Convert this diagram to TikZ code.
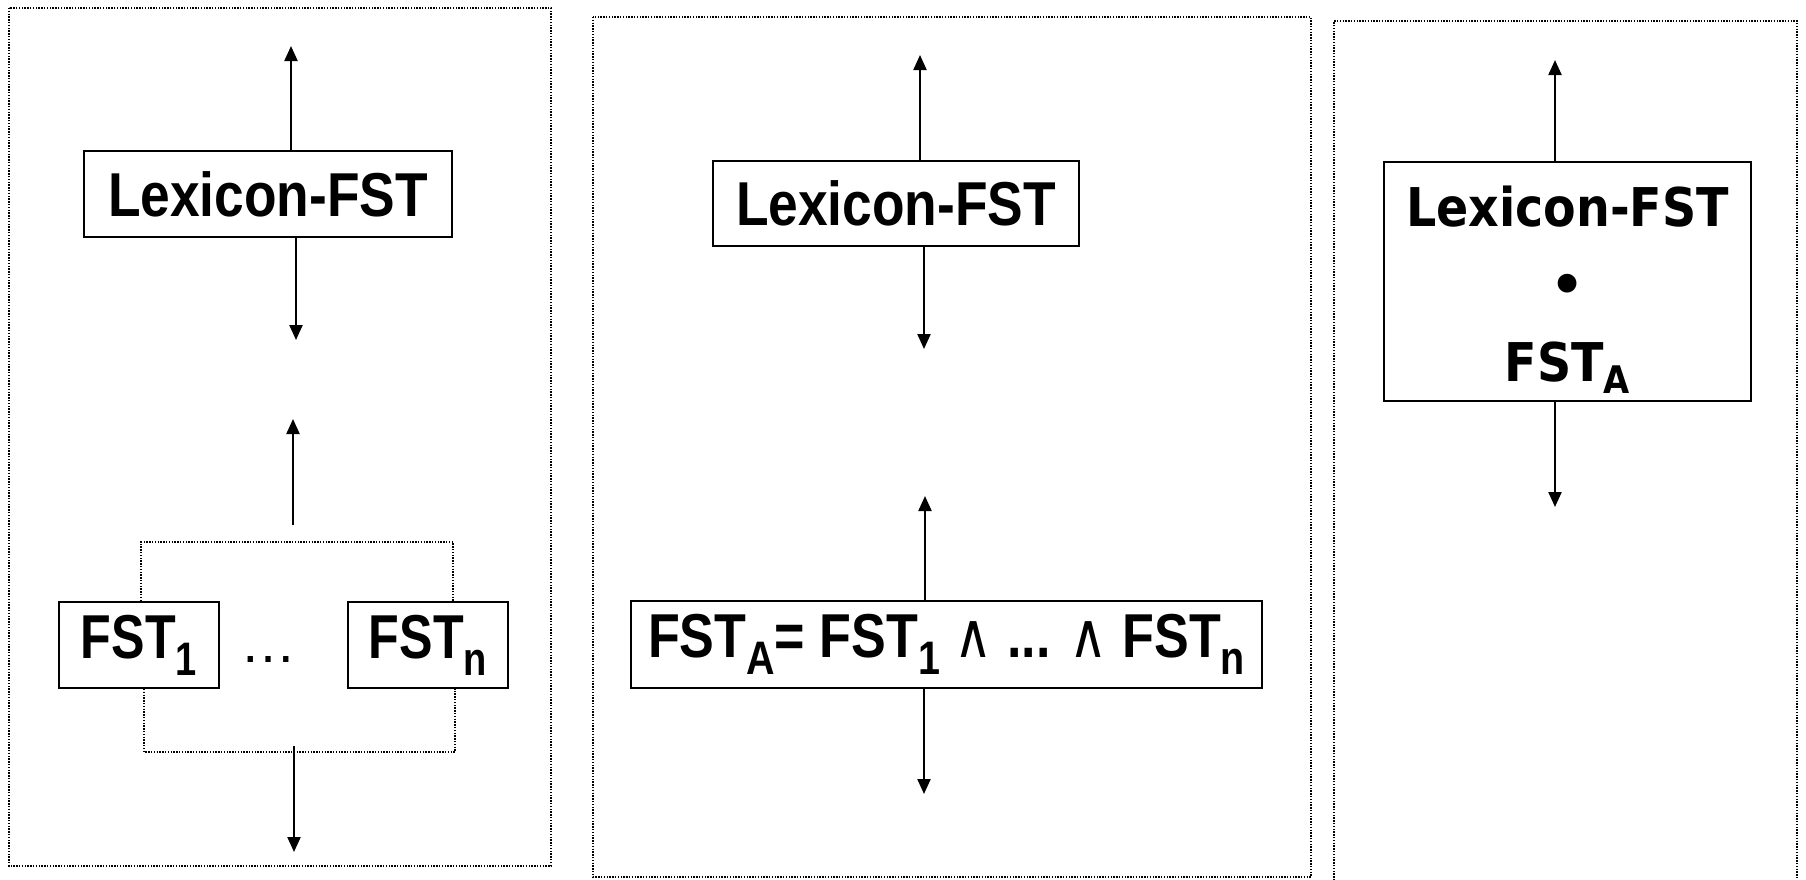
\documentclass[tikz,border=0pt]{standalone}
\usepackage{fontspec}
\setmainfont{Liberation Sans}
\newfontfamily\wfont{DejaVu Sans}
\usetikzlibrary{arrows.meta}
\newcommand\lowidx[1]{\raisebox{-8.5pt}{\fontsize{23.5}{23.5}\selectfont #1}}
\newcommand\lowidxw[1]{\raisebox{-6pt}{\fontsize{19}{19}\selectfont #1}}
\begin{document}
\begin{tikzpicture}[x=0.5pt,y=-0.5pt,
  panel/.style={draw, line width=0.7pt, dash pattern=on 0.7pt off 0.7pt},
  bracket/.style={draw, line width=0.7pt, dash pattern=on 0.7pt off 0.7pt},
  box/.style={draw, line width=1pt, inner sep=0pt, font=\fontsize{31}{31}\selectfont\bfseries},
  arr/.style={line width=1.1pt, -{Triangle[length=7.5pt,width=6.5pt]}}]
\useasboundingbox (0,0) rectangle (1806,879);
% panels
\draw[panel] (9,8) rectangle (551,866);
\draw[panel] (593,17) rectangle (1311,877);
\draw[panel] (1334,900) -- (1334,21) -- (1797,21) -- (1797,900);
% panel 1
\node[box, minimum width=184pt, minimum height=43pt] (lex1) at (268,194) {\scalebox{0.86}[1]{Lexicon-FST}};
\node[box, minimum width=80pt, minimum height=43pt] (fst1) at (139,645) {\scalebox{0.81}[1]{FST\lowidx{1}}};
\node[box, minimum width=80pt, minimum height=43pt] (fstn) at (428,645) {\scalebox{0.81}[1]{FST\lowidx{n}}};
\node[font=\fontsize{28}{28}\selectfont, inner sep=0pt] (dots) at (268,659) {\dots};
\coordinate (u1) at (291,46);
\draw[arr] (lex1.north -| u1) -- (u1);
\coordinate (d1) at (296,340);
\draw[arr] (lex1.south -| d1) -- (d1);
\coordinate (s2) at (293,525);
\coordinate (u2) at (293,419);
\draw[arr] (s2) -- (u2);
\coordinate (tl) at (141,542);
\coordinate (tr) at (453,542);
\draw[bracket] (fst1.north -| tl) -- (tl) -- (tr) -- (fstn.north -| tr);
\coordinate (bl) at (144,752);
\coordinate (br) at (455,752);
\draw[bracket] (fst1.south -| bl) -- (bl) -- (br) -- (fstn.south -| br);
\coordinate (s3) at (294,746);
\coordinate (d3) at (294,852);
\draw[arr] (s3) -- (d3);
% panel 2
\node[box, minimum width=183pt, minimum height=42.5pt] (lex2) at (896,203.5) {\scalebox{0.86}[1]{Lexicon-FST}};
\node[box, minimum width=315.5pt, minimum height=43.5pt] (fsta) at (946.5,644.5)
  {\scalebox{0.84}[1]{FST\lowidx{A}= FST\lowidx{1} {\wfont\mdseries ∧} ... {\wfont\mdseries ∧} FST\lowidx{n}}};
\coordinate (u4) at (920,55);
\draw[arr] (lex2.north -| u4) -- (u4);
\coordinate (d4) at (924,349);
\draw[arr] (lex2.south -| d4) -- (d4);
\coordinate (u5) at (925,496);
\draw[arr] (fsta.north -| u5) -- (u5);
\coordinate (d5) at (924,794);
\draw[arr] (fsta.south -| d5) -- (d5);
% panel 3
\node[box, minimum width=183.5pt, minimum height=119.5pt, align=center,
  font=\wfont\bfseries\fontsize{26.7}{38.75}\selectfont] (lex3) at (1567.5,281.5)
  {\rule{0pt}{28pt}\scalebox{0.89}[1]{Lexicon-FST}\\ •\\ \scalebox{0.89}[1]{FST\lowidxw{A}}};
\coordinate (u6) at (1555,60);
\draw[arr] (lex3.north -| u6) -- (u6);
\coordinate (d6) at (1555,507);
\draw[arr] (lex3.south -| d6) -- (d6);
\end{tikzpicture}
\end{document}
